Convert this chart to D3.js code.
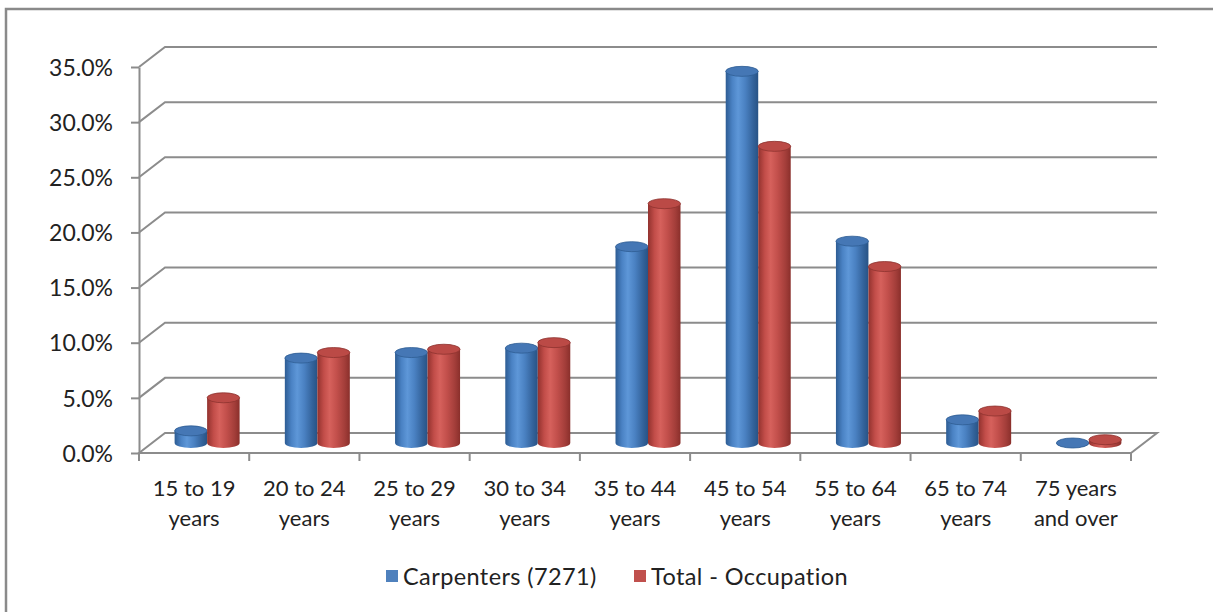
<!DOCTYPE html>
<html>
<head>
<meta charset="utf-8">
<script src="https://cdn.jsdelivr.net/npm/d3@7"></script>
<style>
  html, body { margin: 0; padding: 0; background: #fff; }
  svg { display: block; }
  text { font-family: Lato, "Liberation Sans", sans-serif; fill: #222; }
</style>
</head>
<body>
<svg id="chart" width="1213" height="612"></svg>
<script>
// Age distribution: Carpenters (7271) vs. all occupations, percent of workers
const categories = [
  ["15 to 19", "years"], ["20 to 24", "years"], ["25 to 29", "years"],
  ["30 to 34", "years"], ["35 to 44", "years"], ["45 to 54", "years"],
  ["55 to 64", "years"], ["65 to 74", "years"], ["75 years", "and over"]
];
const seriesNames = ["Carpenters (7271)", "Total - Occupation"];
const carpenters = [1.1, 7.7, 8.2, 8.6, 17.8, 33.7, 18.3, 2.1, 0.0];
const totalOccupation = [4.1, 8.2, 8.5, 9.1, 21.7, 26.9, 16.0, 2.9, 0.3];
const yTicks = [0, 5, 10, 15, 20, 25, 30, 35];

const svg = d3.select("#chart");
const W = 1213, H = 612;

// outer chart frame
svg.append("rect")
  .attr("x", 6).attr("y", 9).attr("width", W + 10).attr("height", H + 10)
  .attr("fill", "none").attr("stroke", "#8a8a8a").attr("stroke-width", 2.5);

// plot geometry (front plane) and depth offset of the back wall
const plotL = 139, plotR = 1131, plotB = 453, plotT = 67;
const depthX = 26, depthY = -20;

const catKeys = categories.map(c => c.join(" "));
const x = d3.scaleBand().domain(catKeys).range([plotL, plotR]).paddingInner(0).paddingOuter(0);
const y = d3.scaleLinear().domain([0, 35]).range([plotB, plotT]);
const xs = d3.scaleBand().domain(seriesNames).range([0, 65]);

const gridColor = "#8c8c8c";

// back wall gridlines with the diagonal return to the front axis
const grid = svg.append("g");
yTicks.forEach(t => {
  if (t === 0) return;
  const yy = y(t);
  grid.append("path")
    .attr("d", `M${plotL},${yy} L${plotL + depthX},${yy + depthY} L${plotR + depthX},${yy + depthY}`)
    .attr("fill", "none").attr("stroke", gridColor).attr("stroke-width", 2);
});

// floor outline
svg.append("path")
  .attr("d", `M${plotL},${plotB} L${plotL + depthX},${plotB + depthY} L${plotR + depthX},${plotB + depthY} L${plotR},${plotB} Z`)
  .attr("fill", "none").attr("stroke", gridColor).attr("stroke-width", 2);

// y axis
const yAxis = d3.axisLeft(y)
  .tickValues(yTicks)
  .tickSize(8).tickSizeOuter(0)
  .tickPadding(18)
  .tickFormat(d => d.toFixed(1) + "%");
const yg = svg.append("g").attr("transform", `translate(${plotL},0)`).call(yAxis);
yg.select(".domain").attr("stroke", gridColor).attr("stroke-width", 2);
yg.selectAll(".tick line").attr("stroke", gridColor).attr("stroke-width", 2);
yg.selectAll(".tick text")
  .attr("fill", "#222")
  .attr("dy", "0.36em")
  .style("font-family", "Lato, 'Liberation Sans', sans-serif")
  .style("font-size", "23px");

// category ticks on the front floor edge
const bounds = [plotL].concat(catKeys.map(k => x(k) + x.bandwidth()));
svg.append("g").selectAll("line").data(bounds).join("line")
  .attr("x1", d => d).attr("x2", d => d)
  .attr("y1", plotB).attr("y2", plotB + 8)
  .attr("stroke", gridColor).attr("stroke-width", 2);

// category labels
const labels = svg.append("g");
categories.forEach((c, i) => {
  const cx = x(catKeys[i]) + x.bandwidth() / 2;
  const t = labels.append("text")
    .attr("x", cx).attr("y", 496)
    .attr("text-anchor", "middle")
    .style("font-size", "22px");
  t.append("tspan").attr("x", cx).attr("dy", 0).text(c[0]);
  t.append("tspan").attr("x", cx).attr("dy", 30).text(c[1]);
});

// cylinder gradients
const defs = svg.append("defs");
const palettes = [
  { id: "gBlue", stops: ["#2d5c93", "#4a82c4", "#5e97d8", "#4a81c2", "#33629a", "#285385"], topFill: "#4577b5", topStroke: "#2e5d93" },
  { id: "gRed", stops: ["#92322e", "#c24d49", "#d6615c", "#c24f4b", "#a23d39", "#8a2f2b"], topFill: "#bb4a46", topStroke: "#8d322e" }
];
palettes.forEach(p => {
  const g = defs.append("linearGradient").attr("id", p.id)
    .attr("x1", "0%").attr("x2", "100%").attr("y1", "0%").attr("y2", "0%");
  const offs = [0, 0.2, 0.38, 0.6, 0.85, 1];
  p.stops.forEach((s, i) => g.append("stop").attr("offset", offs[i]).attr("stop-color", s));
});

// cylinders, drawn at half depth
const values = [carpenters, totalOccupation];
const ry = 5;
const bars = svg.append("g");
catKeys.forEach((k, i) => {
  seriesNames.forEach((s, si) => {
    const v = values[si][i];
    const pal = palettes[si];
    const x0 = x(k) + x.bandwidth() / 2 - 32.5 + xs(s) + depthX / 2;
    const w = xs.bandwidth();
    const rx = w / 2;
    const cx = x0 + rx;
    const yb = y(0) + depthY / 2;
    const yt = y(v) + depthY / 2;
    const body = `M${x0},${yt} L${x0},${yb} A${rx},${ry} 0 0 0 ${x0 + w},${yb} L${x0 + w},${yt} Z`;
    bars.append("path").attr("d", body).attr("fill", `url(#${pal.id})`);
    bars.append("ellipse")
      .attr("cx", cx).attr("cy", yt).attr("rx", rx).attr("ry", ry)
      .attr("fill", pal.topFill).attr("stroke", pal.topStroke).attr("stroke-width", 0.8);
  });
});

// legend
const legend = svg.append("g");
const legendItems = [
  { name: seriesNames[0], color: "#4f81bd", x: 386 },
  { name: seriesNames[1], color: "#c0504d", x: 634 }
];
legendItems.forEach(it => {
  legend.append("rect").attr("x", it.x).attr("y", 570).attr("width", 12).attr("height", 12).attr("fill", it.color);
  legend.append("text").attr("x", it.x + 17).attr("y", 585)
    .style("font-size", "23.5px").style("letter-spacing", "0.4px").text(it.name);
});
</script>
</body>
</html>
